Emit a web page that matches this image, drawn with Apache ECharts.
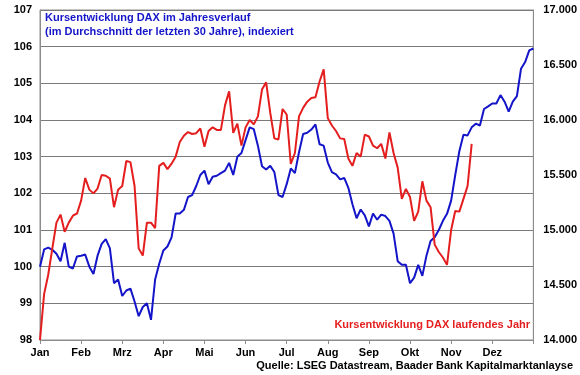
<!DOCTYPE html>
<html>
<head>
<meta charset="utf-8">
<script src="https://cdn.jsdelivr.net/npm/echarts@6/dist/echarts.min.js"></script>
<style>
  html, body { margin: 0; padding: 0; background: #fff; }
  #chart { width: 580px; height: 375px; }
</style>
</head>
<body>
<div id="chart"></div>
<script>
// Monatsnamen der x-Achse
const months = ['Jan', 'Feb', 'Mrz', 'Apr', 'Mai', 'Jun', 'Jul', 'Aug', 'Sep', 'Okt', 'Nov', 'Dez'];
// Abstand der Punkte in Monaten
const step = 0.1;

// saisonaler Verlauf (30 Jahre, indexiert), linke Achse
const seasonal = [
    100.0, 100.47, 100.52, 100.46, 100.35, 100.15, 100.65, 100.0, 99.95, 100.28,
    100.3, 100.33, 100.0, 99.8, 100.3, 100.62, 100.75, 100.5, 99.55, 99.65,
    99.2, 99.35, 99.4, 99.05, 98.65, 98.9, 99.0, 98.55, 99.65, 100.08,
    100.44, 100.55, 100.8, 101.45, 101.45, 101.55, 101.9, 101.95, 102.2, 102.5,
    102.62, 102.25, 102.45, 102.48, 102.55, 102.62, 102.83, 102.5, 103.0, 103.1,
    103.45, 103.8, 103.75, 103.3, 102.74, 102.65, 102.75, 102.58, 101.95, 101.9,
    102.25, 102.68, 102.55, 103.12, 103.62, 103.65, 103.74, 103.88, 103.34, 103.3,
    102.84, 102.58, 102.52, 102.38, 102.42, 102.15, 101.7, 101.32, 101.56, 101.4,
    101.1, 101.45, 101.28, 101.42, 101.38, 101.25, 100.9, 100.15, 100.05, 100.05,
    99.55, 99.7, 100.05, 99.75, 100.3, 100.7, 100.8, 101.0, 101.25, 101.44,
    101.8, 102.5, 103.15, 103.6, 103.58, 103.8, 103.9, 103.85, 104.3, 104.37,
    104.45, 104.45, 104.68, 104.5, 104.23, 104.5, 104.65, 105.4, 105.58, 105.9,
    105.95
];

// DAX laufendes Jahr, rechte Achse (Punkte)
const daxCurrent = [
    14000, 14417, 14593, 14833, 15067, 15140, 14983, 15067, 15130, 15150,
    15267, 15473, 15367, 15333, 15377, 15500, 15493, 15467, 15207, 15367,
    15400, 15627, 15617, 15400, 14833, 14767, 15067, 15067, 15017, 15583,
    15610, 15553, 15603, 15667, 15800, 15857, 15890, 15873, 15880, 15923,
    15757, 15900, 15933, 15910, 15910, 16133, 16260, 15883, 15967, 15767,
    15933, 16000, 15960, 16033, 16277, 16343, 16067, 15833, 15823, 16100,
    16050, 15600, 15700, 16033, 16110, 16167, 16200, 16207, 16350, 16460,
    16017, 15950, 15900, 15833, 15827, 15650, 15583, 15700, 15667, 15867,
    15850, 15767, 15743, 15783, 15650, 15887, 15700, 15567, 15283, 15373,
    15300, 15083, 15167, 15443, 15267, 15207, 14867, 14800, 14750, 14683,
    15000, 15173, 15167, 15283, 15400, 15783
];

const blue = '#1414c8';
const red = '#e41e1e';
const font = '"Liberation Sans", Arial, sans-serif';

const toPoints = arr => arr.map((v, i) => [i * step, v]);
const dotted = v => String(v).replace(/\B(?=(\d{3})+$)/g, '.');

const myChart = echarts.init(document.getElementById('chart'));
const option = {
    animation: false,
    grid: {
        left: 40, right: 45, top: 10, bottom: 35,
        show: true, borderColor: '#8c8c8c', borderWidth: 1,
    },
    xAxis: {
        type: 'value',
        min: 0,
        max: 12,
        interval: 1,
        axisLine: { lineStyle: { color: '#8c8c8c' } },
        axisTick: { show: true, length: 4, lineStyle: { color: '#8c8c8c' } },
        splitLine: { show: false },
        axisLabel: {
            margin: 7,
            color: '#000',
            fontFamily: font,
            fontWeight: 'bold',
            fontSize: 11,
            formatter: v => months[v] || '',
        },
    },
    yAxis: [
        {
            type: 'value',
            min: 98,
            max: 107,
            interval: 1,
            axisLine: { show: true, lineStyle: { color: '#8c8c8c' } },
            axisTick: { show: false },
            splitLine: { lineStyle: { color: '#7a7a7a' } },
            axisLabel: {
                margin: 8,
                color: '#000',
                fontFamily: font,
                fontWeight: 'bold',
                fontSize: 11,
            },
        },
        {
            type: 'value',
            min: 14000,
            max: 17000,
            interval: 500,
            position: 'right',
            axisLine: { show: true, lineStyle: { color: '#8c8c8c' } },
            axisTick: { show: false },
            splitLine: { show: false },
            axisLabel: {
                margin: 10,
                color: '#000',
                fontFamily: font,
                fontWeight: 'bold',
                fontSize: 11,
                formatter: dotted,
            },
        },
    ],
    graphic: [
        {
            type: 'text', left: 45, top: 11,
            style: {
                text: 'Kursentwicklung DAX im Jahresverlauf\n(im Durchschnitt der letzten 30 Jahre), indexiert',
                fill: blue, font: 'bold 11px ' + font, lineHeight: 14,
            },
        },
        {
            type: 'text', right: 50, top: 319,
            style: {
                text: 'Kursentwicklung DAX laufendes Jahr',
                fill: red, font: 'bold 11px ' + font,
            },
        },
        {
            type: 'text', right: 7, top: 360,
            style: {
                text: 'Quelle: LSEG Datastream, Baader Bank Kapitalmarktanlayse',
                fill: '#000', font: 'bold 11px ' + font,
            },
        },
    ],
    series: [
        {
            name: 'Jahresverlauf',
            type: 'line',
            yAxisIndex: 0,
            showSymbol: false,
            lineStyle: { color: blue, width: 2 },
            data: toPoints(seasonal),
        },
        {
            name: 'laufendes Jahr',
            type: 'line',
            yAxisIndex: 1,
            showSymbol: false,
            lineStyle: { color: red, width: 2 },
            data: toPoints(daxCurrent),
        },
    ],
};
myChart.setOption(option);
</script>
</body>
</html>
